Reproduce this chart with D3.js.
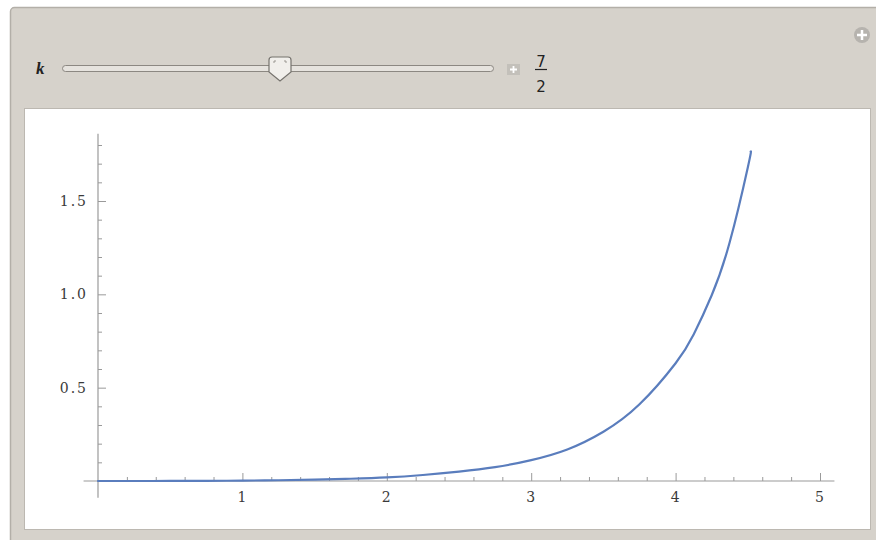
<!DOCTYPE html>
<html lang="en">
<head>
    <meta charset="UTF-8">
    <title>Manipulate k = 7/2</title>
    <script src="https://cdn.jsdelivr.net/npm/d3@7/dist/d3.min.js"></script>
    <style>
        html, body { margin: 0; padding: 0; background: #ffffff; }
        svg { display: block; }
        .tick-label { font-family: "DejaVu Serif", serif; font-size: 14px; fill: #3a3a3a; letter-spacing: 2px; }
    </style>
</head>
<body>
    <svg id="chart" width="876" height="540"></svg>
    <script>
        // curve (k = 7/2)
        const curveX = [0, 0.25, 0.5, 0.75, 1, 1.25, 1.5, 1.75, 2, 2.25, 2.5, 2.75, 3, 3.25, 3.5, 3.75, 4, 4.125, 4.25, 4.375, 4.5, 4.52];
        const curveY = [0, 0, 0.0002, 0.0008, 0.002, 0.004, 0.007, 0.012, 0.019, 0.032, 0.05, 0.074, 0.112, 0.169, 0.264, 0.411, 0.631, 0.785, 0.995, 1.28, 1.68, 1.765];

        const xMajor = [1, 2, 3, 4, 5];
        const xMinor = [0.2, 0.4, 0.6, 0.8, 1.2, 1.4, 1.6, 1.8, 2.2, 2.4, 2.6, 2.8, 3.2, 3.4, 3.6, 3.8, 4.2, 4.4, 4.6, 4.8];
        const yMajor = [0.5, 1.0, 1.5];
        const yMinor = [0.1, 0.2, 0.3, 0.4, 0.6, 0.7, 0.8, 0.9, 1.1, 1.2, 1.3, 1.4, 1.6, 1.7, 1.8];
        const yLabels = ["0.5", "1.0", "1.5"];
        const xExtent = [-0.1, 5.1];
        const yExtent = [-0.09, 1.86];

        const sliderLabel = "k";
        const sliderMin = 0;
        const sliderMax = 7;
        const sliderValue = 3.5;
        const valueNum = "7";
        const valueDen = "2";

        const svg = d3.select("#chart");

        // ---- frame of the Manipulate panel ----
        svg.append("rect")
            .attr("x", 10.5).attr("y", 7.5)
            .attr("width", 880).attr("height", 550)
            .attr("rx", 4)
            .style("fill", "#d6d2cb")
            .style("stroke", "#b3afa8")
            .style("stroke-width", 1.5);

        svg.append("rect")
            .attr("x", 24.5).attr("y", 108.5)
            .attr("width", 846).attr("height", 421)
            .style("fill", "#ffffff")
            .style("stroke", "#bcb8b1");

        // top right "+" bubble
        svg.append("circle")
            .attr("cx", 862).attr("cy", 35).attr("r", 8)
            .style("fill", "#b6b3ae");
        svg.append("path")
            .attr("d", "M857,35H867M862,30V40")
            .style("stroke", "#ffffff").style("stroke-width", 2.5);

        // ---- slider ----
        var sx = d3.scaleLinear().domain([sliderMin, sliderMax]).range([68, 492]);

        svg.append("text")
            .attr("x", 36).attr("y", 74)
            .style("font-family", "'Liberation Serif', serif")
            .style("font-style", "italic")
            .style("font-weight", "bold")
            .style("font-size", "17px")
            .style("fill", "#222")
            .text(sliderLabel);

        svg.append("rect")
            .attr("x", 62.5).attr("y", 65.5)
            .attr("width", 431).attr("height", 6)
            .attr("rx", 3)
            .style("fill", "#e6e3de")
            .style("stroke", "#8c8882");

        var tx = sx(sliderValue);
        svg.append("path")
            .attr("d", `M${tx - 11},60 Q${tx - 11},57 ${tx - 8},57 L${tx + 8},57 Q${tx + 11},57 ${tx + 11},60 L${tx + 11},72 L${tx},81 L${tx - 11},72 Z`)
            .style("fill", "#f1efeb")
            .style("stroke", "#75726d")
            .style("stroke-width", 1.2);
        svg.append("path")
            .attr("d", `M${tx - 6},63 V61 H${tx - 4} M${tx + 6},63 V61 H${tx + 4}`)
            .style("fill", "none")
            .style("stroke", "#9a9791");

        // small "+" button
        svg.append("rect")
            .attr("x", 507).attr("y", 64)
            .attr("width", 13).attr("height", 11)
            .style("fill", "#c3c0ba");
        svg.append("path")
            .attr("d", "M510,69.5H517M513.5,66V73")
            .style("stroke", "#ffffff").style("stroke-width", 1.8);

        // value 7/2
        svg.append("text")
            .attr("x", 541).attr("y", 67)
            .attr("text-anchor", "middle")
            .style("font-family", "'DejaVu Sans', sans-serif")
            .style("font-size", "15px")
            .style("fill", "#222")
            .text(valueNum);
        svg.append("line")
            .attr("x1", 535).attr("x2", 547)
            .attr("y1", 69.5).attr("y2", 69.5)
            .style("stroke", "#222").style("stroke-width", 1.2);
        svg.append("text")
            .attr("x", 541).attr("y", 92)
            .attr("text-anchor", "middle")
            .style("font-family", "'DejaVu Sans', sans-serif")
            .style("font-size", "15px")
            .style("fill", "#222")
            .text(valueDen);

        // ---- plot ----
        var x = d3.scaleLinear().domain([0, 5]).range([98, 820]);
        var y = d3.scaleLinear().domain([0, 1.5]).range([481, 201]);
        var axisColor = "#9a9a9a";

        // axis lines
        svg.append("line")
            .attr("x1", x(xExtent[0])).attr("x2", x(xExtent[1]))
            .attr("y1", y(0)).attr("y2", y(0))
            .style("stroke", axisColor).style("stroke-width", 1.2);
        svg.append("line")
            .attr("x1", x(0)).attr("x2", x(0))
            .attr("y1", y(yExtent[0])).attr("y2", y(yExtent[1]))
            .style("stroke", axisColor).style("stroke-width", 1.2);

        // x ticks (pointing up, like Mathematica)
        var gx = svg.append("g").attr("transform", `translate(0,${y(0)})`);
        gx.call(d3.axisBottom(x).tickValues(xMinor).tickSize(-4).tickFormat(""));
        gx.append("g").call(d3.axisBottom(x).tickValues(xMajor).tickSize(-8).tickPadding(11).tickFormat(d3.format("d")));

        // y ticks (pointing right)
        var gy = svg.append("g").attr("transform", `translate(${x(0)},0)`);
        gy.call(d3.axisLeft(y).tickValues(yMinor).tickSize(-4).tickFormat(""));
        gy.append("g").call(d3.axisLeft(y).tickValues(yMajor).tickSize(-8).tickPadding(10)
            .tickFormat((d, i) => yLabels[i]));

        svg.selectAll(".domain").remove();
        svg.selectAll(".tick line").style("stroke", axisColor);
        svg.selectAll(".tick text").attr("class", "tick-label").attr("fill", null);

        // curve
        var pts = curveX.map((d, i) => [d, curveY[i]]);
        var line = d3.line()
            .x(d => x(d[0]))
            .y(d => y(d[1]))
            .curve(d3.curveNatural);

        svg.append("path")
            .datum(pts)
            .attr("d", line)
            .style("fill", "none")
            .style("stroke", "#5a7dbd")
            .style("stroke-width", 2.2)
            .style("stroke-linecap", "round");
    </script>
</body>
</html>
